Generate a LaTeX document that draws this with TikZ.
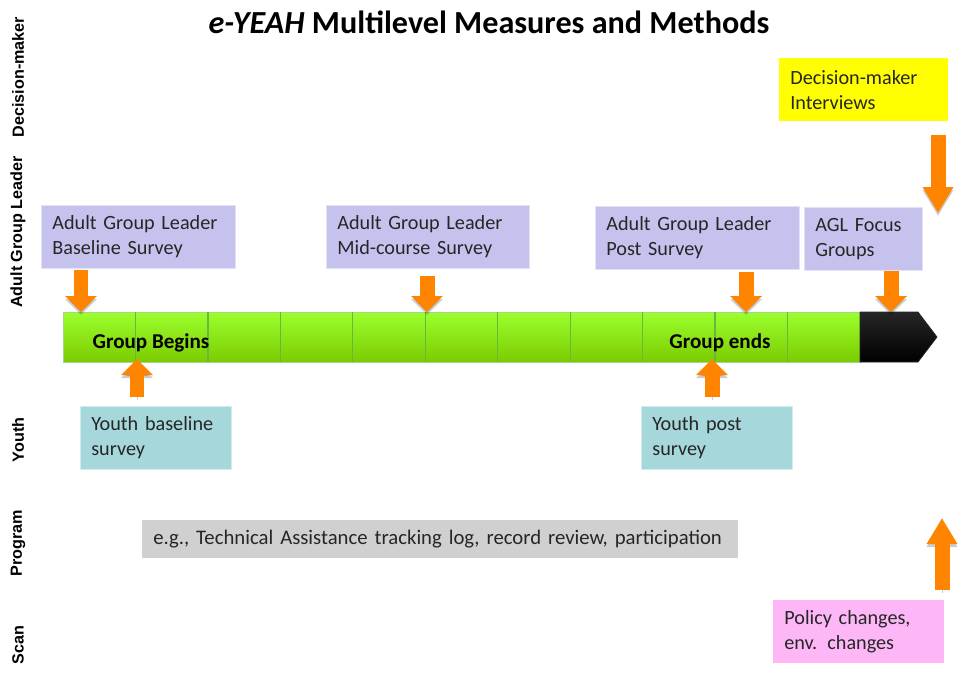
\documentclass[tikz,border=0pt]{standalone}
\usepackage{fontspec}
\setmainfont{Carlito}
\newfontfamily\levelfont{Liberation Sans}
\usetikzlibrary{arrows.meta}

\definecolor{aglfill}{HTML}{C5C3ED}
\definecolor{youthfill}{HTML}{A6D7DB}
\definecolor{progfill}{HTML}{D0D0D0}
\definecolor{scanfill}{HTML}{FDB7F7}
\definecolor{dmfill}{HTML}{FFFF00}
\definecolor{limetop}{HTML}{9CFF2E}
\definecolor{limebot}{HTML}{7CCB00}
\definecolor{limeline}{HTML}{62BC3C}
\definecolor{arrowfill}{HTML}{FF8500}

\tikzset{
  infobox/.style={rectangle, inner xsep=0.22cm, inner ysep=0pt, minimum height=1.26cm,
    align=left, anchor=north west, text=black!85, font=\fontsize{11.5}{14.2}\selectfont},
  aglbox/.style={infobox, fill=aglfill, draw=aglfill!50!white},
  youthbox/.style={infobox, fill=youthfill, draw=youthfill!50!white},
  levellabel/.style={rotate=90, font=\levelfont\bfseries\fontsize{9.2}{11}\selectfont},
  barlabel/.style={font=\bfseries\fontsize{12}{14}\selectfont},
  shadowed/.style={preaction={draw=black, opacity=0.2, transform canvas={yshift=-0.06cm}}},
  orangearrow/.style={shadowed, line width=0.3cm, draw=arrowfill, -{Triangle[width=0.62cm,length=0.32cm]}},
  tallarrow/.style={shadowed, line width=0.3cm, draw=arrowfill, -{Triangle[width=0.58cm,length=0.52cm]}}
}

\begin{document}
\begin{tikzpicture}[x=0.02cm, y=-0.02cm]
    \useasboundingbox (0,0) rectangle (964,677);

    \node[font=\bfseries\fontsize{18.3}{21}\selectfont] (title) at (489,22)
        {\textit{e-YEAH} Multilevel Measures and Methods};

    % levels down the left side
    \node[levellabel] (lvdm) at (18,77) {Decision-maker};
    \node[levellabel] (lvagl) at (18,232) {Adult Group Leader};
    \node[levellabel] (lvyouth) at (18,440) {Youth};
    \node[levellabel] (lvprog) at (18,543) {Program};
    \node[levellabel] (lvscan) at (18,645) {Scan};

    % measures
    \node[infobox, fill=dmfill, text width=2.94cm] (dmint) at (779,58) {Decision-maker\\Interviews};
    \node[aglbox, text width=3.44cm] (aglbase) at (41,205) {Adult Group Leader\\Baseline Survey};
    \node[aglbox, text width=3.62cm] (aglmid) at (326,205) {Adult Group Leader\\Mid-course Survey};
    \node[aglbox, text width=3.64cm] (aglpost) at (595,206) {Adult Group Leader\\Post Survey};
    \node[aglbox, text width=1.92cm] (aglfocus) at (804,207) {AGL Focus\\Groups};
    \node[youthbox, text width=2.58cm] (ybase) at (80,406) {Youth baseline\\survey};
    \node[youthbox, text width=2.58cm] (ypost) at (641,406) {Youth post\\survey};
    \node[infobox, fill=progfill, minimum height=0.76cm, text width=11.48cm,
          font=\fontsize{11.8}{14.2}\selectfont] (prog) at (142,520)
        {e.g., Technical Assistance tracking log, record review, participation};
    \node[infobox, fill=scanfill, text width=2.98cm] (scan) at (773,600) {Policy changes,\\env. changes};

    % timeline bar
    \shade[top color=limetop, bottom color=limebot, draw=limeline!60!white] (63,312) rectangle (860,362);
    \foreach \i in {1,...,10}
        \draw[limeline, line width=0.7pt] ({63+72.45*\i},312) -- ({63+72.45*\i},362);
    \shade[top color=black!85, bottom color=black, draw=black!85]
        (860,312) -- (918,312) -- (937,337) -- (918,362) -- (860,362) -- cycle;
    \node[barlabel] (gbegin) at (151,343) {Group Begins};
    \node[barlabel] (gend) at (720,343) {Group ends};

    % where the arrows meet the bar
    \coordinate (t1) at (81,312);
    \coordinate (t2) at (427,312);
    \coordinate (t3) at (746,312);
    \coordinate (t4) at (891,312);
    \coordinate (u1) at (137,359);
    \coordinate (u2) at (712,359);
    \coordinate (dmtop) at (938,135);
    \coordinate (dmtip) at (938,213);
    \coordinate (pctip) at (942,518);

    \draw[orangearrow] ([yshift=-0.02cm]aglbase.south -| t1) -- (t1);
    \draw[orangearrow] ([yshift=-0.14cm]aglmid.south -| t2) -- (t2);
    \draw[orangearrow] ([yshift=-0.04cm]aglpost.south -| t3) -- (t3);
    \draw[orangearrow] (aglfocus.south -| t4) -- (t4);
    \draw[orangearrow] ([yshift=0.18cm]ybase.north -| u1) -- (u1);
    \draw[orangearrow] ([yshift=0.18cm]ypost.north -| u2) -- (u2);
    \draw[tallarrow] (dmtop) -- (dmtip);
    \draw[tallarrow] ([yshift=0.2cm]scan.north -| pctip) -- (pctip);
\end{tikzpicture}
\end{document}
